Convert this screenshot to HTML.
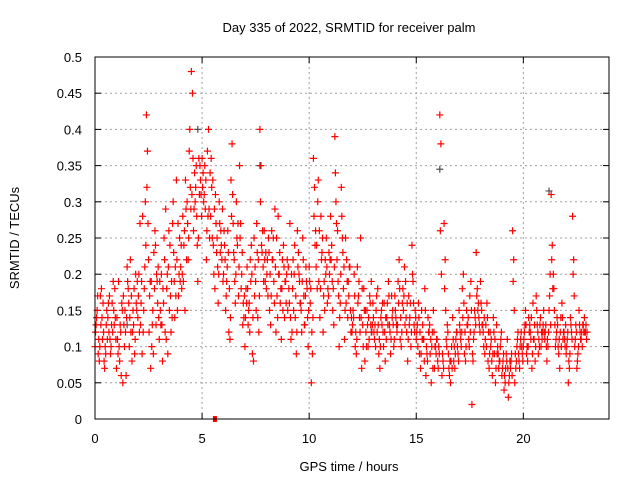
<!DOCTYPE html>
<html><head><meta charset="utf-8"><style>
body{margin:0;background:#fff}
svg{display:block;font-family:"Liberation Sans",sans-serif}
</style></head><body>
<svg id="chart" width="640" height="480" viewBox="0 0 640 480">
<rect width="640" height="480" fill="#fff"/>
<text x="349" y="32" font-size="13" text-anchor="middle" fill="#000">Day 335 of 2022, SRMTID for receiver palm</text>
<text transform="translate(19,238) rotate(-90)" font-size="13" text-anchor="middle" fill="#000">SRMTID / TECUs</text>
<text x="349" y="471" font-size="13" text-anchor="middle" fill="#000">GPS time / hours</text>
<g id="grid"></g>
<g id="ticks"></g>
<g id="marks"></g>
<rect x="95" y="57" width="514" height="362" fill="none" stroke="#000" stroke-width="1"/>
</svg>
<script>
const xTicks=[0,5,10,15,20];
const yTicks=[0,0.05,0.1,0.15,0.2,0.25,0.3,0.35,0.4,0.45,0.5];
const yTickLabels=["0","0.05","0.1","0.15","0.2","0.25","0.3","0.35","0.4","0.45","0.5"];
const seriesA=[.10,.15,.08,.18,.12,.09,.14,.11,.16,.13,
.07,.19,.12,.05,.15,.21,.10,.17,.13,.20,
.14,.27,.09,.18,.42,.22,.07,.15,.26,.19,
.11,.20,.16,.29,.09,.24,.14,.19,.33,.17,
.21,.28,.15,.30,.37,.48,.26,.32,.19,.35,
.36,.31,.22,.40,.28,.33,.18,.25,.30,.24,
.20,.15,.26,.11,.38,.22,.30,.17,.27,.13,
.10,.21,.16,.24,.08,.19,.14,.40,.23,.26,
.18,.25,.13,.22,.29,.17,.20,.11,.24,.19,
.15,.27,.12,.20,.09,.23,.16,.25,.13,.18,
.21,.05,.36,.26,.30,.14,.23,.19,.25,.17,
.28,.15,.39,.22,.10,.32,.18,.25,.14,.21,
.12,.20,.09,.17,.25,.13,.08,.15,.11,.19,
.14,.10,.18,.07,.13,.16,.11,.19,.09,.15,
.17,.12,.22,.10,.15,.19,.08,.14,.24,.13,
.11,.16,.07,.13,.18,.09,.12,.05,.15,.10,
.08,.42,.06,.27,.11,.09,.05,.14,.07,.12,
.15,.10,.20,.08,.13,.17,.02,.12,.23,.16,
.19,.13,.09,.16,.07,.11,.14,.05,.10,.08,
.06,.04,.09,.03,.07,.26,.05,.10,.08,.12,
.10,.15,.08,.13,.07,.11,.17,.09,.14,.12,
.11,.08,.15,.31,.20,.10,.13,.07,.16,.12,
.09,.05,.14,.28,.10,.07,.15,.11,.13,.12];
const seriesB=[.13,.09,.17,.11,.07,.15,.12,.10,.19,.14,
.11,.08,.16,.13,.06,.18,.22,.12,.09,.15,
.20,.16,.12,.30,.37,.17,.10,.23,.13,.21,
.15,.08,.22,.18,.26,.12,.30,.21,.15,.25,
.18,.24,.29,.22,.32,.45,.34,.28,.36,.31,
.34,.29,.37,.25,.32,.20,.27,.16,.23,.29,
.24,.19,.12,.33,.27,.16,.24,.35,.20,.14,
.18,.13,.22,.09,.17,.27,.12,.35,.21,.19,
.22,.15,.26,.19,.12,.28,.16,.22,.14,.20,
.18,.11,.22,.14,.26,.19,.12,.17,.21,.10,
.16,.09,.32,.24,.19,.28,.12,.22,.16,.20,
.24,.13,.30,.19,.16,.25,.11,.22,.17,.12,
.15,.10,.21,.14,.07,.18,.12,.10,.16,.13,
.11,.17,.09,.14,.12,.08,.16,.13,.17,.10,
.14,.19,.11,.16,.21,.12,.17,.10,.19,.15,
.13,.09,.15,.11,.06,.14,.09,.12,.07,.11,
.10,.38,.08,.22,.13,.06,.10,.08,.11,.09,
.12,.18,.09,.15,.11,.19,.08,.14,.18,.13,
.15,.10,.13,.08,.12,.06,.09,.13,.07,.11,
.08,.05,.11,.06,.09,.22,.07,.12,.10,.09,
.12,.09,.14,.11,.16,.08,.13,.10,.12,.15,
.13,.10,.20,.24,.15,.12,.09,.14,.11,.10,
.11,.07,.12,.22,.13,.09,.12,.10,.14,.11];
const seriesC=[.12,.17,.10,.14,.08,.13,.16,.09,.12,.18,
.14,.10,.06,.17,.12,.19,.14,.08,.18,.16,
.17,.13,.28,.21,.32,.12,.19,.09,.24,.16,
.19,.13,.25,.11,.21,.17,.27,.14,.22,.20,
.24,.19,.33,.27,.40,.31,.29,.35,.25,.33,
.32,.35,.26,.29,.36,.24,.31,.21,.27,.22,
.26,.17,.23,.14,.31,.19,.25,.21,.18,.16,
.14,.18,.12,.20,.25,.15,.22,.30,.26,.22,
.20,.23,.17,.25,.21,.14,.23,.18,.21,.16,
.21,.14,.18,.24,.12,.20,.15,.22,.17,.14,
.19,.12,.28,.21,.33,.18,.25,.15,.21,.23,
.22,.18,.34,.26,.14,.28,.21,.16,.19,.15,
.13,.17,.11,.19,.14,.10,.15,.13,.17,.12,
.12,.15,.13,.10,.16,.12,.14,.17,.11,.13,
.15,.13,.18,.12,.17,.14,.11,.16,.20,.12,
.12,.14,.09,.11,.15,.08,.13,.10,.12,.09,
.07,.26,.09,.18,.10,.07,.08,.11,.09,.10,
.13,.12,.16,.10,.14,.12,.09,.15,.17,.14,
.16,.12,.11,.14,.09,.08,.12,.07,.09,.10,
.07,.06,.08,.05,.08,.19,.09,.11,.07,.10,
.11,.13,.10,.12,.09,.13,.15,.11,.10,.13,
.12,.11,.17,.22,.18,.11,.10,.12,.14,.11,
.10,.08,.13,.20,.11,.08,.13,.12,.12,.13];
const seriesD=[.14,.11,.13,.16,.10,.11,.17,.13,.15,.11,
.09,.13,.15,.10,.14,.16,.12,.15,.11,.19,
.12,.19,.15,.24,.27,.19,.13,.18,.20,.14,
.13,.18,.12,.20,.15,.19,.23,.17,.27,.19,
.20,.26,.22,.25,.29,.36,.30,.24,.31,.28,
.30,.33,.28,.34,.25,.29,.23,.20,.26,.19,
.22,.21,.18,.28,.23,.20,.27,.25,.23,.17,
.16,.15,.19,.14,.21,.23,.17,.24,.19,.23,
.17,.20,.22,.16,.25,.20,.18,.15,.19,.22,
.16,.20,.15,.17,.21,.16,.19,.13,.19,.15,
.18,.14,.24,.18,.26,.22,.17,.20,.18,.22,
.19,.21,.27,.17,.20,.23,.15,.19,.21,.14,
.14,.12,.16,.12,.18,.15,.10,.14,.13,.16,
.13,.12,.11,.15,.10,.14,.13,.12,.14,.11,
.13,.16,.14,.18,.13,.16,.13,.12,.16,.14,
.10,.12,.11,.08,.10,.12,.11,.07,.10,.11,
.09,.20,.07,.15,.12,.08,.07,.10,.12,.08,
.11,.14,.12,.13,.10,.15,.11,.13,.15,.12,
.13,.14,.10,.12,.10,.09,.11,.09,.08,.12,
.09,.07,.07,.08,.06,.15,.08,.09,.11,.08,
.13,.10,.12,.14,.11,.10,.12,.13,.11,.12,
.10,.12,.13,.18,.13,.14,.11,.10,.12,.13,
.12,.09,.11,.17,.12,.10,.11,.13,.12,.12];
const grayTimes=[4.8,7.7,16.1,21.2,1.5,12.9];
const grayValues=[0.40,0.35,0.345,0.315,0.13,0.12];
const squareTimes=[5.6];
const squareValues=[0];

const X0=95,X1=609,Y0=419,Y1=57,XMAX=24,YMAX=0.5;
const xs=t=>X0+(t/XMAX)*(X1-X0);
const ys=v=>Y0-(v/YMAX)*(Y0-Y1);
const NS="http://www.w3.org/2000/svg";
function mk(tag,attrs,parent){const e=document.createElementNS(NS,tag);for(const k in attrs)e.setAttribute(k,attrs[k]);parent.appendChild(e);return e;}
const grid=document.getElementById('grid'),ticks=document.getElementById('ticks'),marks=document.getElementById('marks');
xTicks.forEach((t,i)=>{
  const x=xs(t);
  if(t>0){const g=mk('line',{x1:x,x2:x,y1:Y1,y2:Y0,stroke:'#a0a0a0','stroke-dasharray':'2,3'},grid);
  
  }
  mk('line',{x1:x,x2:x,y1:Y0,y2:Y0-6,stroke:'#000'},ticks);
  mk('line',{x1:x,x2:x,y1:Y1,y2:Y1+6,stroke:'#000'},ticks);
  const l=mk('text',{x:x,y:443,'font-size':13,'text-anchor':'middle',fill:'#000'},ticks);
  l.textContent=String(t);
  
  
});
yTicks.forEach((v,i)=>{
  const y=ys(v);
  if(v>0&&v<YMAX){const g=mk('line',{x1:X0,x2:X1,y1:y,y2:y,stroke:'#a0a0a0','stroke-dasharray':'2,3'},grid);
  
  }
  mk('line',{x1:X0,x2:X0+6,y1:y,y2:y,stroke:'#000'},ticks);
  mk('line',{x1:X1,x2:X1-6,y1:y,y2:y,stroke:'#000'},ticks);
  const l=mk('text',{x:82,y:y+5,'font-size':13,'text-anchor':'end',fill:'#000'},ticks);
  l.textContent=yTickLabels[i];
  
  
});
function plus(t,v,color){
  const x=xs(t),y=ys(v);
  const p=mk('path',{d:`M${x-3.5},${y}H${x+3.5}M${x},${y-3.5}V${y+3.5}`,stroke:color,'stroke-width':1.2,fill:'none'},marks);
  
  
}
grayTimes.forEach((t,i)=>plus(t,grayValues[i],'#505050'));
seriesA.forEach((v,i)=>plus(i*0.1,v,'#ff0000'));
seriesB.forEach((v,i)=>plus(i*0.1+0.05,v,'#ff0000'));
seriesC.forEach((v,i)=>plus(i*0.1+0.025,v,'#ff0000'));
seriesD.forEach((v,i)=>plus(i*0.1+0.075,v,'#ff0000'));
squareTimes.forEach((t,i)=>{
  const r=mk('rect',{x:xs(t)-2,y:ys(squareValues[i])-3,width:4,height:6,fill:'#ff0000'},marks);
  
  
});
</script>
</body></html>
